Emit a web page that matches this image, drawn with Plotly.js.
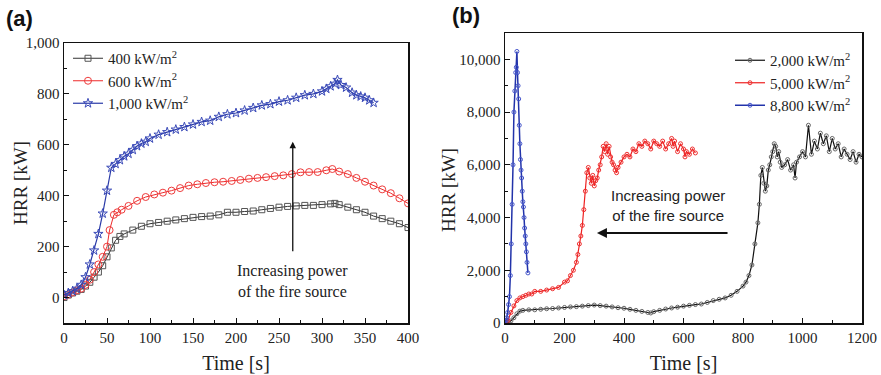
<!DOCTYPE html>
<html>
<head>
<meta charset="utf-8">
<script src="https://cdn.plot.ly/plotly-3.0.1.min.js"></script>
<style>html,body{margin:0;padding:0;background:#fff;}#chart{width:881px;height:375px;}</style>
</head>
<body>
<div id="chart"></div>
<script>
// ---------- Panel (a) ----------
const tA400 = [0,5,10,15,20,25,30,35,40,45,50,55,60,65,70,80,90,100,110,120,130,140,150,160,170,180,190,200,210,220,230,240,250,260,270,280,290,300,310,315,320,330,340,350,360,370,380,390,400];
const hA400 = [0,10,18,25,32,45,60,80,100,125,160,195,225,240,250,265,280,290,295,300,305,310,315,318,320,325,335,335,338,340,345,350,355,358,360,362,362,365,368,370,365,355,345,335,320,310,300,290,275];

const tA600 = [0,5,10,15,20,25,30,35,40,45,50,53,58,62,67,75,85,95,105,115,125,135,145,155,165,175,185,195,205,215,225,235,245,255,265,275,285,295,305,312,320,330,340,350,360,370,380,390,400];
const hA600 = [5,12,20,28,35,50,70,100,130,160,200,265,325,335,345,360,380,395,405,412,420,430,440,445,450,453,455,458,462,467,470,473,477,480,485,492,493,493,500,505,495,485,470,455,440,425,410,390,370];

const tA1000 = [0,5,10,15,20,25,30,35,40,45,50,55,60,65,70,75,80,85,90,95,100,110,120,130,140,150,160,170,180,190,200,210,220,230,240,250,260,270,280,290,300,305,310,315,318,322,328,335,340,345,350,355,360];
const hA1000 = [10,18,25,35,50,80,130,185,250,330,420,510,525,540,555,565,580,595,605,612,625,640,650,660,670,680,690,695,710,720,725,735,745,755,760,770,775,785,795,800,810,820,830,840,855,835,825,805,795,790,785,775,765];

// ---------- Panel (b) ----------
const tB2000 = [0,10,20,30,40,50,60,80,100,120,140,160,180,200,220,240,260,280,300,320,340,360,380,400,420,440,460,480,490,500,520,540,560,580,600,620,640,660,680,700,720,740,760,780,800,810,820,830,840,850,855,860,865,870,875,880,885,890,895,900,905,910,915,920,925,930,940,950,960,970,975,980,990,1000,1010,1020,1030,1040,1050,1060,1070,1080,1090,1100,1110,1120,1130,1140,1150,1160,1170,1180,1190,1200];
const hB2000 = [0,20,80,200,350,450,480,500,500,520,540,550,570,590,610,620,640,660,680,660,640,610,580,560,520,480,440,400,380,430,480,530,570,600,640,670,700,720,780,850,900,950,1050,1200,1400,1550,1800,2200,3000,3800,4500,5600,5900,5300,5000,5200,5800,6000,6300,6500,6800,6700,6300,6500,6100,5900,6000,6200,5800,6000,5500,6100,6300,6500,6300,7500,6400,6900,6600,7200,6800,7100,6500,7000,6600,6800,6300,6600,6400,6200,6500,6100,6400,6300];

const tB5000 = [0,10,20,30,40,50,60,70,80,90,100,120,140,160,180,200,210,220,230,240,245,250,255,260,265,270,275,280,285,290,295,300,305,310,315,320,325,330,335,340,345,350,355,360,365,370,375,380,390,400,410,420,430,440,450,460,470,480,490,500,510,520,530,540,550,560,565,570,580,590,600,605,610,620,630,640];
const hB5000 = [0,100,400,650,850,950,1000,1050,1100,1100,1200,1200,1250,1300,1350,1550,1600,1800,2000,2300,2600,3000,3300,3700,4300,5000,5700,5900,5500,5300,5600,5200,5400,5500,5800,6000,6300,6700,6500,6800,6400,6700,6300,6100,6000,5800,5700,5900,6100,6300,6400,6300,6600,6500,6800,6700,6900,6800,6600,6900,6800,6700,6900,6600,6800,7000,6700,6900,6500,6800,6600,6300,6500,6400,6600,6450];

const tB8800 = [0,3,6,9,12,15,18,21,24,27,30,33,36,38,40,42,44,46,48,50,52,54,56,58,60,62,64,66,68,70,72,74,77];
const hB8800 = [0,100,200,400,700,1000,1800,3000,4500,6000,8000,8800,9500,9700,10300,9500,9000,8500,7500,6800,6200,5800,5500,5000,4600,4400,4000,3600,3300,3000,2700,2300,1900];

const namesA = ['400 kW/m<sup>2</sup>','600 kW/m<sup>2</sup>','1,000 kW/m<sup>2</sup>'];
const namesB = ['2,000 kW/m<sup>2</sup>','5,000 kW/m<sup>2</sup>','8,800 kW/m<sup>2</sup>'];

const serif = 'Liberation Serif, Times New Roman, serif';
const sans = 'Liberation Sans, Arial, sans-serif';

const traces = [
  {x:tA400, y:hA400, name:namesA[0], mode:'lines+markers', xaxis:'x', yaxis:'y', legend:'legend',
   line:{color:'#333333', width:1}, marker:{symbol:'square-open', size:6, color:'#555555', line:{width:1}}},
  {x:tA600, y:hA600, name:namesA[1], mode:'lines+markers', xaxis:'x', yaxis:'y', legend:'legend',
   line:{color:'#ee2b2b', width:1}, marker:{symbol:'circle-open', size:7, color:'#ee3b3b', line:{width:1}}},
  {x:tA1000, y:hA1000, name:namesA[2], mode:'lines+markers', xaxis:'x', yaxis:'y', legend:'legend',
   line:{color:'#2a3aa8', width:1.2}, marker:{symbol:'star-open', size:7, color:'#3a4ab8', line:{width:1}}},
  {x:tB2000, y:hB2000, name:namesB[0], mode:'lines+markers', xaxis:'x2', yaxis:'y2', legend:'legend2',
   line:{color:'#111111', width:1.2}, marker:{symbol:'circle-open', size:4, color:'#666666', line:{width:1}}},
  {x:tB5000, y:hB5000, name:namesB[1], mode:'lines+markers', xaxis:'x2', yaxis:'y2', legend:'legend2',
   line:{color:'#ee2020', width:1.2}, marker:{symbol:'circle-open', size:4, color:'#ee3030', line:{width:1}}},
  {x:tB8800, y:hB8800, name:namesB[2], mode:'lines+markers', xaxis:'x2', yaxis:'y2', legend:'legend2',
   line:{color:'#2233aa', width:1.5}, marker:{symbol:'circle-open', size:4, color:'#4455cc', line:{width:1}}}
];

const axisCommon = {
  showgrid:false, zeroline:false, showline:true, mirror:true, linecolor:'#111', linewidth:1.5,
  ticks:'inside', ticklen:5, tickwidth:1, tickcolor:'#111',
  tickfont:{family:serif, size:15, color:'#222'}
};

const layout = {
  width:881, height:375,
  margin:{l:0, r:0, t:0, b:0},
  paper_bgcolor:'#fff', plot_bgcolor:'#fff',
  separators:'.,',
  showlegend:true,
  xaxis: Object.assign({}, axisCommon, {
    domain:[64/881, 408/881], range:[0,400], dtick:50, tick0:0, anchor:'y',
    minor:{ticks:'inside', ticklen:3, dtick:25, tickcolor:'#111'},
    title:{text:'Time [s]', font:{family:serif, size:20, color:'#222'}, standoff:11}
  }),
  yaxis: Object.assign({}, axisCommon, {
    domain:[1-323/375, 1-43/375], range:[-100,1000], dtick:200, tick0:0, anchor:'x',
    tickformat:',d',
    minor:{ticks:'inside', ticklen:3, dtick:100, tickcolor:'#111'}
  }),
  xaxis2: Object.assign({}, axisCommon, {
    domain:[505/881, 862/881], range:[0,1200], dtick:200, tick0:0, anchor:'y2',
    tickformat:'d',
    minor:{ticks:'inside', ticklen:3, dtick:100, tickcolor:'#111'},
    title:{text:'Time [s]', font:{family:serif, size:20, color:'#222'}, standoff:11}
  }),
  yaxis2: Object.assign({}, axisCommon, {
    domain:[1-323/375, 1-33/375], range:[0,11000], dtick:2000, tick0:0, anchor:'x2',
    tickformat:',d',
    minor:{ticks:'inside', ticklen:3, dtick:1000, tickcolor:'#111'}
  }),
  legend:{x:68/881, y:1-42/375, xanchor:'left', yanchor:'top', bgcolor:'rgba(0,0,0,0)',
    font:{family:serif, size:15, color:'#222'}, tracegroupgap:0, itemwidth:30},
  legend2:{x:856/881, y:1-44/375, xanchor:'right', yanchor:'top', bgcolor:'rgba(0,0,0,0)',
    font:{family:serif, size:15, color:'#222'}, tracegroupgap:0, itemwidth:30},
  annotations:[
    {text:'<b>(a)</b>', xref:'paper', yref:'paper', x:4/881, y:1-18/375, xanchor:'left', yanchor:'middle',
     showarrow:false, font:{family:sans, size:22, color:'#111'}},
    {text:'<b>(b)</b>', xref:'paper', yref:'paper', x:450/881, y:1-16/375, xanchor:'left', yanchor:'middle',
     showarrow:false, font:{family:sans, size:22, color:'#111'}},
    {text:'HRR [kW]', xref:'paper', yref:'paper', x:20/881, y:1-183/375, textangle:-90,
     xanchor:'center', yanchor:'middle', showarrow:false, font:{family:serif, size:19, color:'#222'}},
    {text:'HRR [kW]', xref:'paper', yref:'paper', x:448/881, y:1-190/375, textangle:-90,
     xanchor:'center', yanchor:'middle', showarrow:false, font:{family:serif, size:19, color:'#222'}},
    {text:'Increasing power<br>of the fire source', xref:'x', yref:'y', x:266, y:65, showarrow:false,
     font:{family:serif, size:16, color:'#222'}, align:'center'},
    {text:'', xref:'x', yref:'y', x:266, y:612, ax:266, ay:176, axref:'x', ayref:'y',
     showarrow:true, arrowhead:2, arrowsize:1, arrowwidth:1.3, arrowcolor:'#111'},
    {text:'Increasing power<br>of the fire source', xref:'x2', yref:'y2', x:548, y:4470, showarrow:false,
     font:{family:sans, size:15, color:'#222'}, align:'center'},
    {text:'', xref:'x2', yref:'y2', x:309, y:3410, ax:753, ay:3410, axref:'x2', ayref:'y2',
     showarrow:true, arrowhead:2, arrowsize:1, arrowwidth:2, arrowcolor:'#111'}
  ]
};

Plotly.newPlot('chart', traces, layout, {displayModeBar:false, staticPlot:true});
</script>
</body>
</html>
